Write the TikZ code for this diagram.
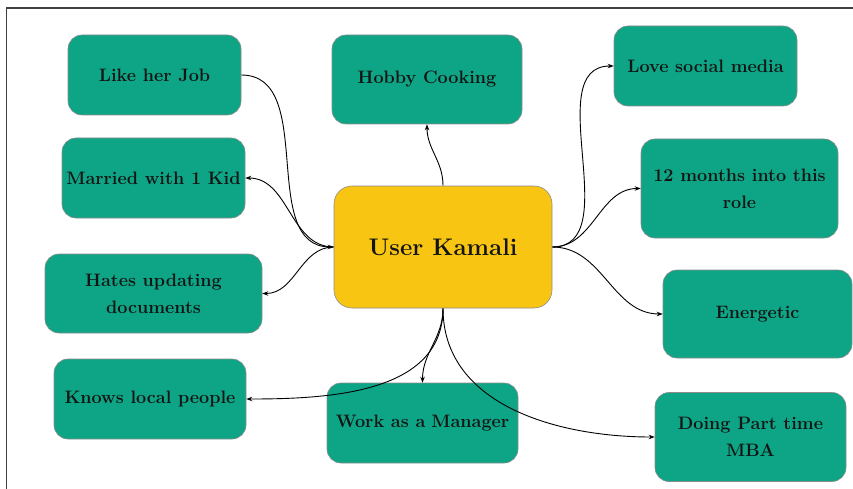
\documentclass[tikz,border=0pt]{standalone}
\usepackage{tikz}
\usetikzlibrary{arrows.meta}
\definecolor{tealbox}{HTML}{0DA585}
\definecolor{hubyellow}{HTML}{F8C612}
\tikzset{
  mapbox/.style={rounded corners=14pt, draw=black!45, line width=0.6pt, fill=tealbox,
                 inner sep=1pt, align=center, text=black!92,
                 font=\fontsize{18}{27}\selectfont\bfseries},
  hubbox/.style={mapbox, fill=hubyellow, rounded corners=18pt,
                 font=\fontsize{24}{30}\selectfont\bfseries},
  maparr/.style={-{Stealth[length=6pt,width=4.5pt]}, draw=black, line width=0.9pt},
}

\begin{document}
\begin{tikzpicture}[x=1pt,y=-1pt]
\useasboundingbox (0,0) rectangle (853,489);
% frame (only top and left edges show)
\draw[black!75, line width=1.4pt] (6.5,489) -- (6.5,8) -- (853,8);

% hub
\node[hubbox, minimum width=218pt, minimum height=122pt] (user) at (443,247) {User Kamali};

% left column
\node[mapbox, minimum width=173pt, minimum height=80pt] (likejob) at (154.5,75) {Like her Job};
\node[mapbox, minimum width=183pt, minimum height=80pt] (married) at (153.5,178) {Married with 1 Kid};
\node[mapbox, minimum width=217pt, minimum height=79pt] (hates) at (153.5,293.5) {Hates updating\\documents};
\node[mapbox, minimum width=192pt, minimum height=80pt] (knows) at (150,399) {Knows local people};

% middle
\node[mapbox, minimum width=190pt, minimum height=89pt] (hobby) at (427,79.5) {Hobby Cooking};
\node[mapbox, minimum width=191pt, minimum height=80pt] (manager) at (422.5,423) {Work as a\,\,Manager};

% right column
\node[mapbox, minimum width=183pt, minimum height=80pt] (social) at (705.5,66) {Love social media};
\node[mapbox, minimum width=197pt, minimum height=99pt] (months) at (739.5,188.5) {12 months into this\\role};
\node[mapbox, minimum width=189pt, minimum height=88pt] (energetic) at (757.5,314) {Energetic};
\node[mapbox, minimum width=191pt, minimum height=89pt] (mba) at (750.5,437) {Doing Part time\\MBA};

% connectors
\draw[maparr] (likejob.east) to[out=0, in=180] (user.west);
\draw[maparr] (user.west) to[out=180, in=0] (married.east);
\draw[maparr] (user.west) to[out=180, in=0] (hates.east);
\draw[maparr] (user.south) to[out=-90, in=0] (knows.east);
\draw[maparr] (user.south) to[out=-90, in=90] (manager.north);
\draw[maparr] (user.south) to[out=-90, in=180] (mba.west);
\draw[maparr] (user.north) to[out=90, in=-90] (hobby.south);
\draw[maparr] (user.east) to[out=0, in=180] (social.west);
\draw[maparr] (user.east) to[out=0, in=180] (months.west);
\draw[maparr] (user.east) to[out=0, in=180] (energetic.west);
\end{tikzpicture}
\end{document}
